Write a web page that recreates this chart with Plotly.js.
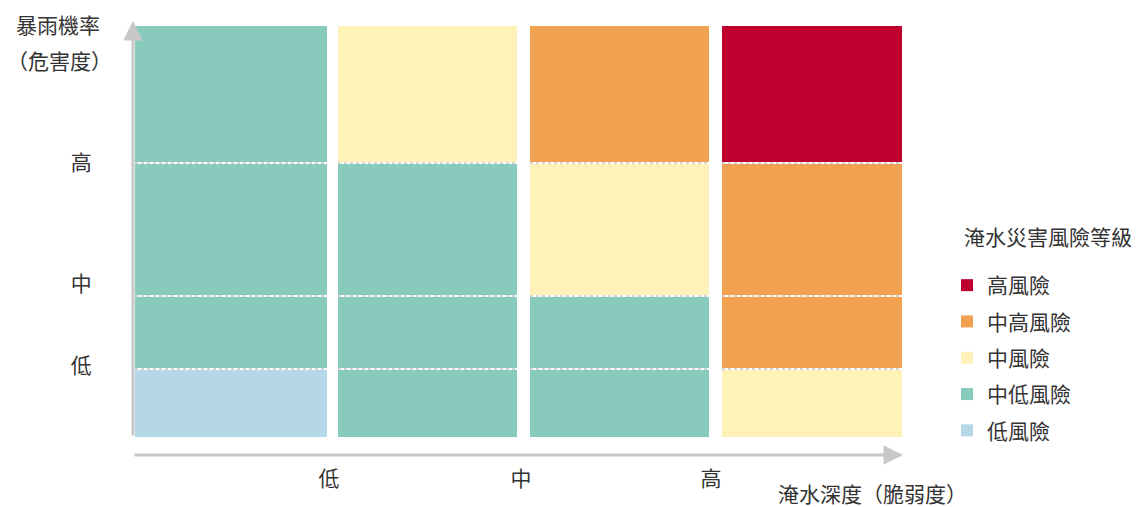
<!DOCTYPE html>
<html>
<head>
<meta charset="utf-8">
<script src="https://cdn.plot.ly/plotly-3.0.1.min.js"></script>
<style>
html,body{margin:0;padding:0;background:#fff;}
#chart{width:1136px;height:507px;}
#chart text{text-spacing-trim: space-all !important; font-feature-settings: "fwid" 1, "chws" 0, "halt" 0 !important;}
</style>
</head>
<body>
<div id="chart"></div>
<script>
// Risk levels (legend order) and colours
const levelNames = ['高風險', '中高風險', '中風險', '中低風險', '低風險'];
const levelColors = ['#BE002F', '#F2A151', '#FEF2B9', '#88CABB', '#B4D8E7'];

// Column (淹水深度) cell extents and row (暴雨機率) cell extents
const colLeft  = [2, 205, 397, 589];
const colRight = [194, 384, 576, 769];
const rowBottom = [0, 69, 142, 275];
const rowTop    = [67, 140, 273, 411];
const rowSeparators = [68, 141, 274];

// Risk grid: rows bottom -> top, columns left -> right (index into levelNames)
const riskGrid = [
  [4, 3, 3, 2],
  [3, 3, 3, 1],
  [3, 3, 2, 1],
  [3, 2, 1, 0]
];

// Tick labels
const xTickVals = [196, 388, 578];
const xTickText = ['低', '中', '高'];
const yTickVals = [71, 153, 274];
const yTickText = ['低', '中', '高'];

// Titles
const yTitleLines = ['暴雨機率', '（危害度）'];
const xTitle = '淹水深度（脆弱度）';
const legendTitle = '淹水災害風險等級';

const FONT = '"Noto Sans CJK TC", "Noto Sans CJK SC", sans-serif';
const TXT = '#333333';
const FS = 21;

const traces = levelNames.map((name, li) => {
  const x = [], w = [], base = [], h = [];
  riskGrid.forEach((row, ri) => row.forEach((lv, ci) => {
    if (lv === li) {
      x.push((colLeft[ci] + colRight[ci]) / 2);
      w.push(colRight[ci] - colLeft[ci]);
      base.push(rowBottom[ri]);
      h.push(rowTop[ri] - rowBottom[ri]);
    }
  }));
  return {
    type: 'bar', name: name, x: x, y: h, base: base, width: w,
    marker: {color: levelColors[li], line: {width: 0}},
    legendgroup: 'g' + li, hoverinfo: 'skip'
  };
});

// dotted row separators
const sx = [], sy = [];
rowSeparators.forEach(s => colLeft.forEach((l, ci) => {
  sx.push(l, colRight[ci], null); sy.push(s, s, null);
}));
traces.push({
  type: 'scatter', mode: 'lines', x: sx, y: sy, showlegend: false, hoverinfo: 'skip',
  line: {color: '#c8c8c8', width: 1.5, dash: 'dot'}
});

// pixel -> paper helpers for text placement
const px = v => (v - 133) / 772;
const py = v => (456 - v) / 436;
const txt = (text, x, y) => ({
  text: text, x: px(x), y: py(y), xref: 'paper', yref: 'paper',
  xanchor: 'center', yanchor: 'middle', showarrow: false,
  font: {family: FONT, size: FS, color: TXT}
});

const layout = {
  width: 1136, height: 507,
  margin: {l: 133, r: 231, t: 20, b: 51},
  paper_bgcolor: '#fff', plot_bgcolor: '#fff',
  barmode: 'overlay',
  font: {family: FONT, size: FS, color: TXT},
  xaxis: {
    range: [0, 772], showgrid: false, zeroline: false, showline: false,
    tickmode: 'array', tickvals: xTickVals, ticktext: xTickText,
    ticks: 'outside', ticklen: 4, tickcolor: 'rgba(0,0,0,0)',
    tickfont: {family: FONT, size: FS, color: TXT}, fixedrange: true
  },
  yaxis: {
    range: [-19, 417], showgrid: false, zeroline: false, showline: false,
    tickmode: 'array', tickvals: yTickVals, ticktext: yTickText,
    ticks: 'outside', ticklen: 36, tickcolor: 'rgba(0,0,0,0)',
    tickfont: {family: FONT, size: FS, color: TXT}, fixedrange: true
  },
  legend: {
    x: px(947), y: py(265), xanchor: 'left', yanchor: 'top',
    traceorder: 'grouped', tracegroupgap: 6,
    font: {family: FONT, size: FS, color: TXT},
    bgcolor: 'rgba(0,0,0,0)'
  },
  annotations: [
    {x: 0, y: 416, ax: 0, ay: 0, xref: 'x', yref: 'y', axref: 'x', ayref: 'y',
     text: '', showarrow: true, arrowhead: 2, arrowsize: 1.3, arrowwidth: 3, arrowcolor: '#c8c8c8'},
    {x: 770, y: -18, ax: 0, ay: -18, xref: 'x', yref: 'y', axref: 'x', ayref: 'y',
     text: '', showarrow: true, arrowhead: 2, arrowsize: 1.3, arrowwidth: 3, arrowcolor: '#c8c8c8'},
    txt(yTitleLines[0], 58, 24),
    txt(yTitleLines[1], 59, 60),
    txt(xTitle, 872, 493),
    txt(legendTitle, 1048, 236)
  ]
};

Plotly.newPlot('chart', traces, layout, {displayModeBar: false, staticPlot: true});
</script>
</body>
</html>
